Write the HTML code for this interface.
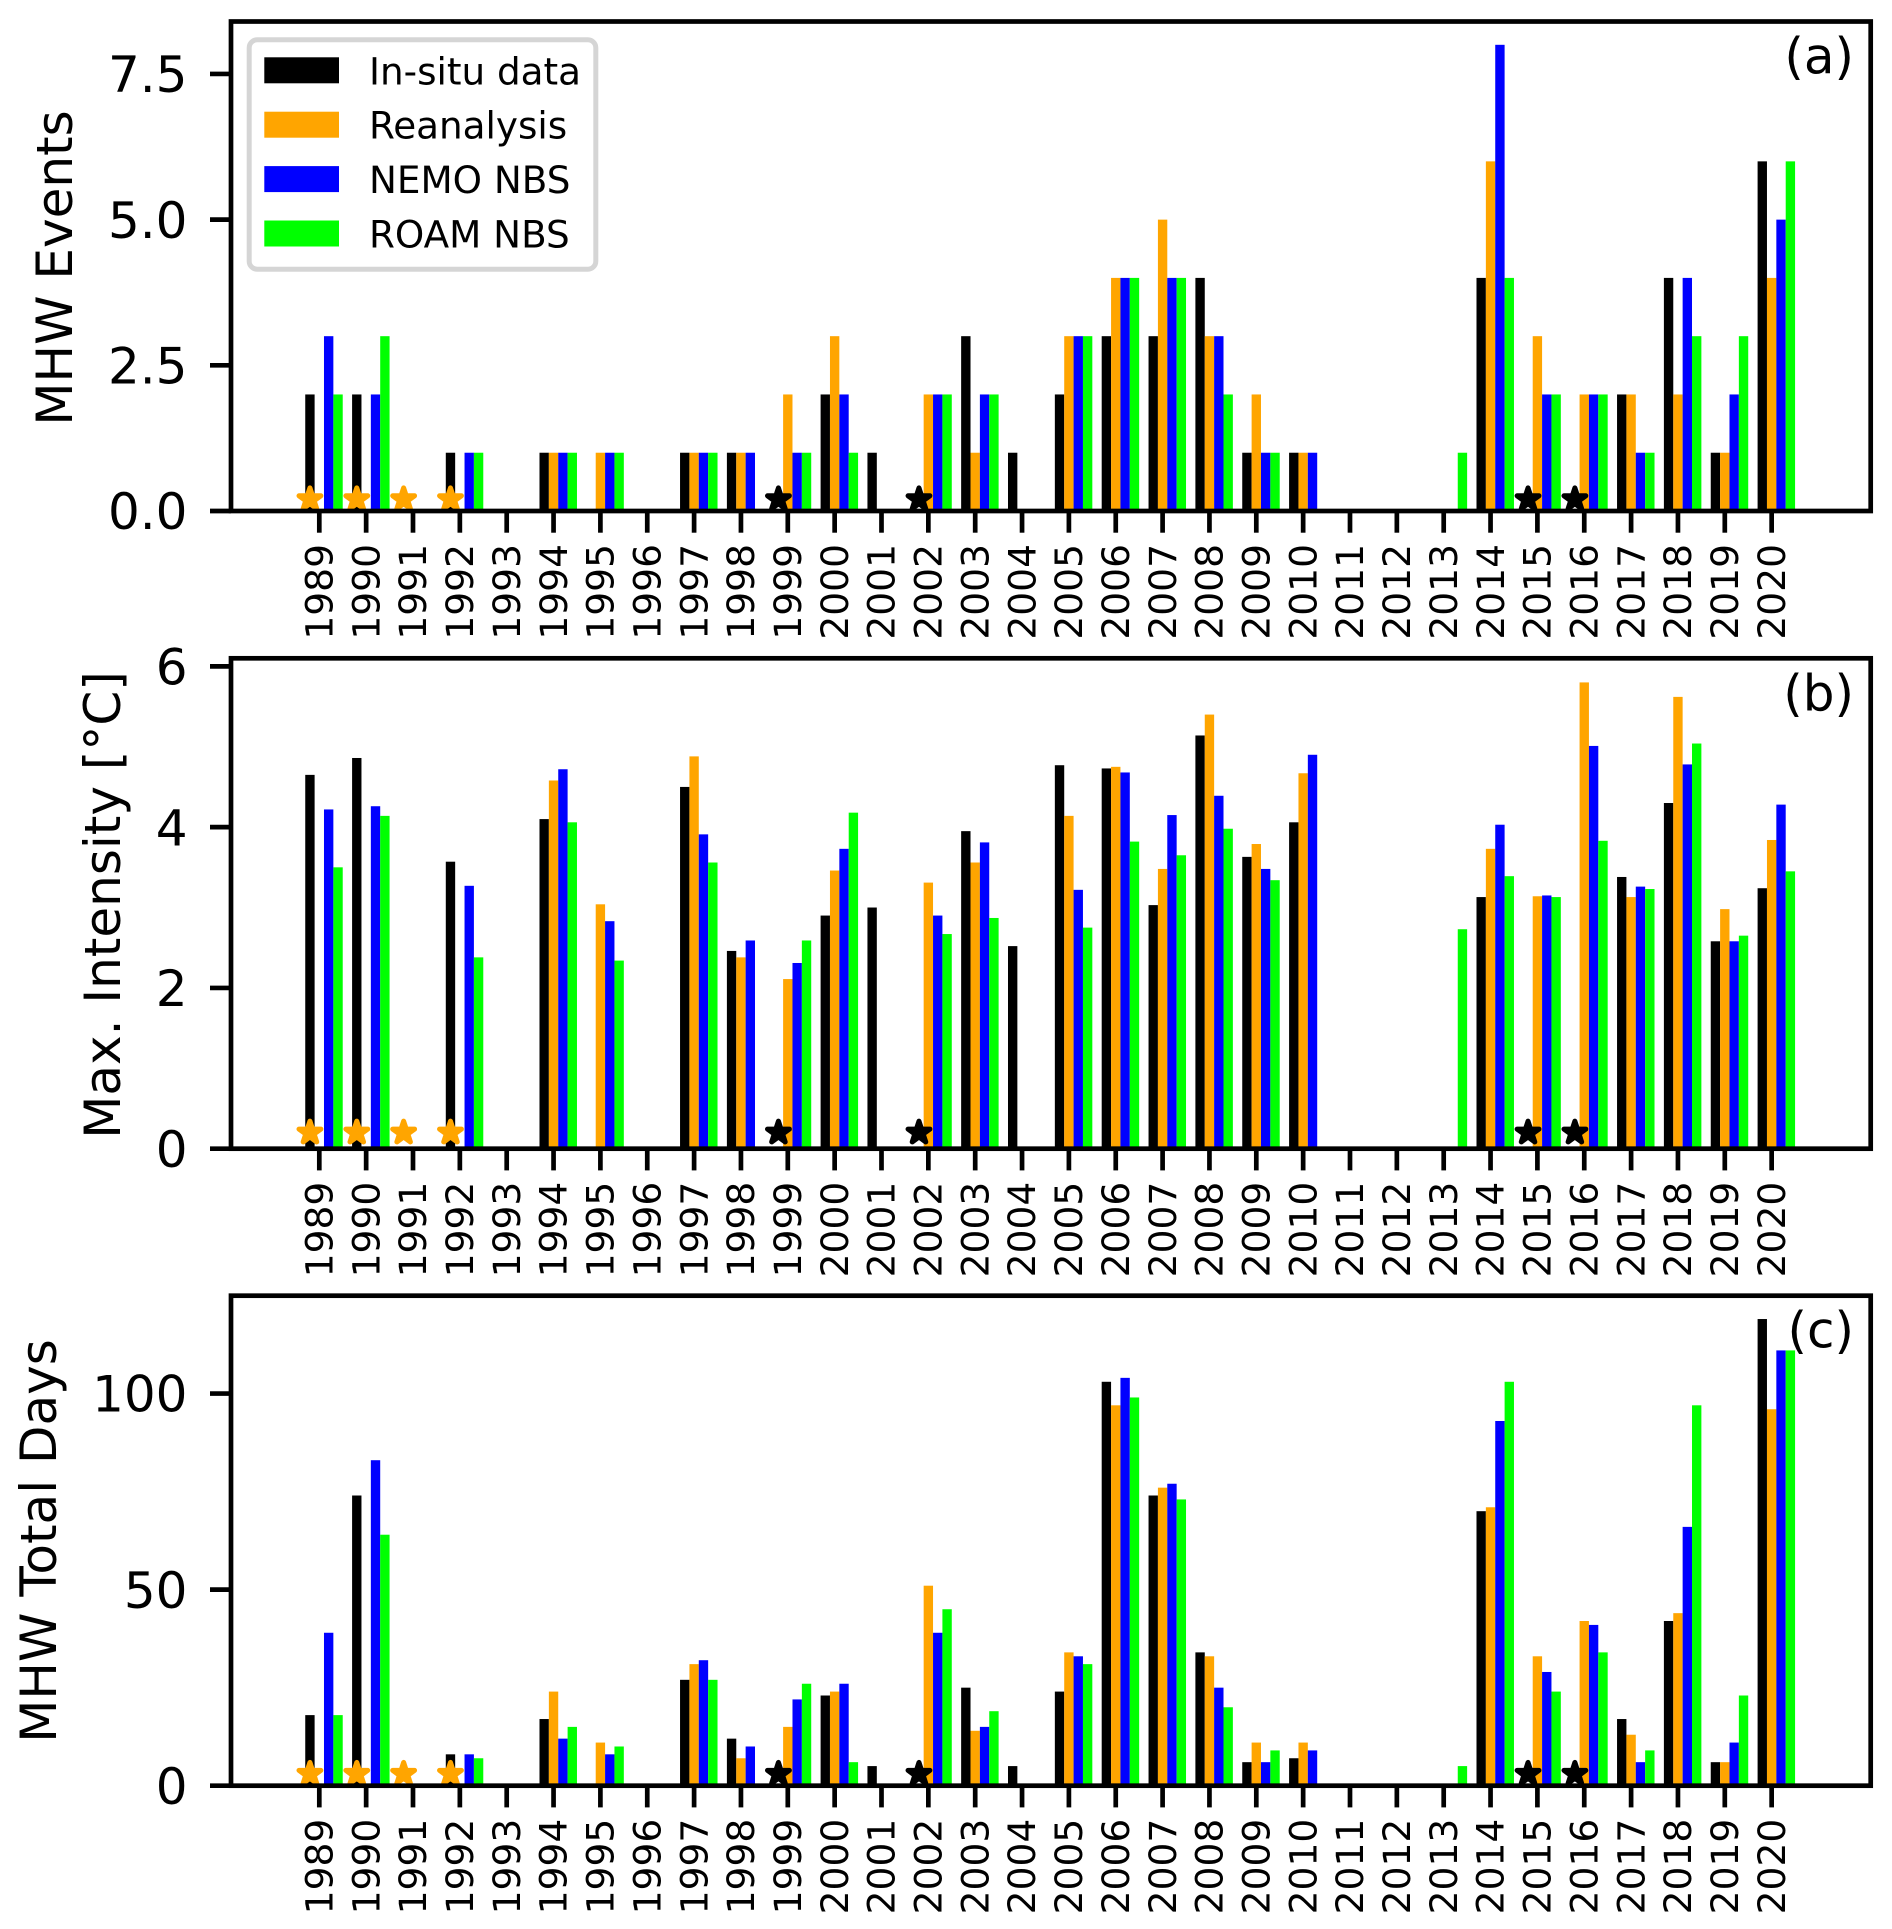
<!DOCTYPE html>
<html lang="en">
<head>
<meta charset="utf-8">
<title>Marine heatwave statistics 1989-2020</title>
<style>
html,body{margin:0;padding:0;background:#fff;}
svg{display:block;}
text{font-family:"DejaVu Sans","Liberation Sans",sans-serif;fill:#000;}
</style>
</head>
<body>
<svg id="chart" xmlns="http://www.w3.org/2000/svg" width="1892" height="1929" viewBox="0 0 1892 1929"></svg>
<script>
const years = [1989,1990,1991,1992,1993,1994,1995,1996,1997,1998,1999,2000,2001,2002,2003,2004,2005,2006,2007,2008,2009,2010,2011,2012,2013,2014,2015,2016,2017,2018,2019,2020];
const seriesNames = ["In-situ data","Reanalysis","NEMO NBS","ROAM NBS"];
const seriesColors = ["#000000","#ffa500","#0000ff","#00ff00"];

const eventsInsitu = [2,2,0,1,0,1,0,0,1,1,0,2,1,0,3,1,2,3,3,4,1,1,0,0,0,4,0,0,2,4,1,6];
const eventsReanalysis = [0,0,0,0,0,1,1,0,1,1,2,3,0,2,1,0,3,4,5,3,2,1,0,0,0,6,3,2,2,2,1,4];
const eventsNemo = [3,2,0,1,0,1,1,0,1,1,1,2,0,2,2,0,3,4,4,3,1,1,0,0,0,8,2,2,1,4,2,5];
const eventsRoam = [2,3,0,1,0,1,1,0,1,0,1,1,0,2,2,0,3,4,4,2,1,0,0,0,1,4,2,2,1,3,3,6];

const intensityInsitu = [4.65,4.86,0,3.57,0,4.1,0,0,4.5,2.46,0,2.9,3.0,0,3.95,2.52,4.77,4.73,3.03,5.14,3.63,4.06,0,0,0,3.13,0,0,3.38,4.3,2.58,3.24];
const intensityReanalysis = [0,0,0,0,0,4.58,3.04,0,4.88,2.38,2.11,3.46,0,3.31,3.56,0,4.14,4.75,3.48,5.4,3.79,4.67,0,0,0,3.73,3.14,5.8,3.13,5.62,2.98,3.84];
const intensityNemo = [4.22,4.26,0,3.27,0,4.72,2.83,0,3.91,2.59,2.31,3.73,0,2.9,3.81,0,3.22,4.68,4.15,4.39,3.48,4.9,0,0,0,4.03,3.15,5.01,3.26,4.78,2.58,4.28];
const intensityRoam = [3.5,4.14,0,2.38,0,4.06,2.34,0,3.56,0,2.59,4.18,0,2.67,2.87,0,2.75,3.82,3.65,3.98,3.34,0,0,0,2.73,3.39,3.13,3.83,3.23,5.04,2.65,3.45];

const daysInsitu = [18,74,0,8,0,17,0,0,27,12,0,23,5,0,25,5,24,103,74,34,6,7,0,0,0,70,0,0,17,42,6,119];
const daysReanalysis = [0,0,0,0,0,24,11,0,31,7,15,24,0,51,14,0,34,97,76,33,11,11,0,0,0,71,33,42,13,44,6,96];
const daysNemo = [39,83,0,8,0,12,8,0,32,10,22,26,0,39,15,0,33,104,77,25,6,9,0,0,0,93,29,41,6,66,11,111];
const daysRoam = [18,64,0,7,0,15,10,0,27,0,26,6,0,45,19,0,31,99,73,20,9,0,0,0,5,103,24,34,9,97,23,111];

const orangeStarYears = [1989,1990,1991,1992];
const blackStarYears = [1999,2002,2015,2016];

const eventsTicks = [0,2.5,5,7.5];
const eventsTickLabels = ["0.0","2.5","5.0","7.5"];
const intensityTicks = [0,2,4,6];
const intensityTickLabels = ["0","2","4","6"];
const daysTicks = [0,50,100];
const daysTickLabels = ["0","50","100"];

const svg = document.getElementById("chart");
const NS = "http://www.w3.org/2000/svg";
const LEFT = 231, RIGHT = 1870.7, X0 = 319.3, PER_YEAR = 46.85;
const BIG_FONT = 50, SMALL_FONT = 37.6, LEGEND_FONT = 37.3, SPINE = 4.7;
function xScale(v){ return X0 + (v - 1989) * PER_YEAR; }
function linearY(bottom, top, maxV){ return v => bottom - v / maxV * (bottom - top); }
function make(tag, attrs, parent){
  const el = document.createElementNS(NS, tag);
  for (const k in attrs) el.setAttribute(k, attrs[k]);
  (parent || svg).appendChild(el);
  return el;
}
function starPoints(cx, cy, r){
  const pts = [];
  for (let i = 0; i < 10; i++){
    const rad = i % 2 ? r * 0.381966 : r;
    const a = -Math.PI / 2 + i * Math.PI / 5;
    pts.push((cx + rad * Math.cos(a)).toFixed(2) + "," + (cy + rad * Math.sin(a)).toFixed(2));
  }
  return pts.join(" ");
}

function drawPanel(p){
  const g = make("g", {});
  
  
  const y = linearY(p.bottom, p.top, p.maxV);
  const barW = 0.2 * PER_YEAR;

  p.series.forEach((vals, s) => {
    const sg = make("g", {}, g);
    
    
    vals.forEach((v, i) => {
      const cx = xScale(years[i] + (s - 1) * 0.2);
      const r = make("rect", {x: cx - barW / 2, y: y(v), width: barW, height: Math.max(0, p.bottom - y(v)), fill: seriesColors[s]}, sg);
      
      
    });
  });

  [[orangeStarYears, "#ffa500"], [blackStarYears, "#000000"]].forEach(pair => {
    pair[0].forEach(yr => {
      const st = make("polygon", {points: starPoints(xScale(yr - 0.2), y(p.starV), 11.5), fill: pair[1], stroke: pair[1], "stroke-width": 5, "stroke-linejoin": "round"}, g);
      
      
    });
  });

  const frame = make("rect", {x: LEFT, y: p.top, width: RIGHT - LEFT, height: p.bottom - p.top, fill: "none", stroke: "#000", "stroke-width": SPINE}, g);
  
  

  p.ticks.forEach((t, i) => {
    const ty = y(t);
    const tick = make("line", {x1: LEFT - 21, x2: LEFT, y1: ty, y2: ty, stroke: "#000", "stroke-width": SPINE}, g);
    
    
    const lab = make("text", {x: 187.5, y: ty + 18.2, "text-anchor": "end", "font-size": BIG_FONT}, g);
    lab.textContent = p.tickLabels[i];
    
    
  });

  years.forEach(yr => {
    const tx = xScale(yr);
    const tick = make("line", {x1: tx, x2: tx, y1: p.bottom, y2: p.bottom + 21.7, stroke: "#000", "stroke-width": SPINE}, g);
    
    
    const ly = p.bottom + 33;
    const bx = tx + 13.2;
    const lab = make("text", {x: bx, y: ly, "text-anchor": "end", "font-size": SMALL_FONT, transform: "rotate(-90 " + bx + " " + ly + ")"}, g);
    lab.textContent = String(yr);
    
    
  });

  const yl = make("text", {x: p.labelX, y: p.labelY, "text-anchor": "middle", "font-size": BIG_FONT, transform: "rotate(-90 " + p.labelX + " " + p.labelY + ")"}, g);
  yl.textContent = p.label;
  
  

  const tag = make("text", {x: 1854, y: p.top + 52, "text-anchor": "end", "font-size": BIG_FONT}, g);
  tag.textContent = p.tag;
  
  
}

drawPanel({key:"events", top:21.5, bottom:511, maxV:8.4, series:[eventsInsitu,eventsReanalysis,eventsNemo,eventsRoam], starV:0.2, ticks:eventsTicks, tickLabels:eventsTickLabels, label:"MHW Events", labelX:72, labelY:268, tag:"(a)"});
drawPanel({key:"intensity", top:658.3, bottom:1148.7, maxV:6.1, series:[intensityInsitu,intensityReanalysis,intensityNemo,intensityRoam], starV:0.2, ticks:intensityTicks, tickLabels:intensityTickLabels, label:"Max. Intensity [°C]", labelX:120, labelY:905, tag:"(b)"});
drawPanel({key:"days", top:1295.7, bottom:1785.7, maxV:124.95, series:[daysInsitu,daysReanalysis,daysNemo,daysRoam], starV:3, ticks:daysTicks, tickLabels:daysTickLabels, label:"MHW Total Days", labelX:56, labelY:1541, tag:"(c)"});

const legend = make("g", {});


const legendBox = make("rect", {x: 249.2, y: 39.8, width: 346.6, height: 229.4, rx: 8, ry: 8, fill: "#fff", stroke: "#d5d5d5", "stroke-width": 5}, legend);


seriesNames.forEach((name, i) => {
  const top = 57.3 + i * 54.4;
  const sw = make("rect", {x: 264.3, y: top, width: 74.7, height: 26, fill: seriesColors[i]}, legend);
  
  
  const t = make("text", {x: 369, y: top + 27, "font-size": LEGEND_FONT}, legend);
  t.textContent = name;
  
  
});
</script>
</body>
</html>
